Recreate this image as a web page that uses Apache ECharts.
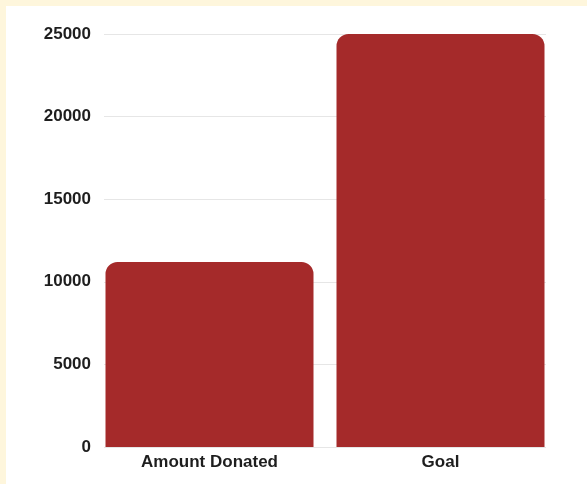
<!DOCTYPE html>
<html>
<head>
<meta charset="utf-8">
<script src="https://cdn.jsdelivr.net/npm/echarts@6/dist/echarts.min.js"></script>
<style>
html,body{margin:0;padding:0;background:#fef6dc;width:587px;height:484px;overflow:hidden;}
#c{position:absolute;left:6px;top:6px;width:581px;height:478px;background:#ffffff;}
</style>
</head>
<body>
<div id="c"></div>
<script>
var categories = ["Amount Donated", "Goal"];
var values = [11200, 25000];
var yTicks = [0, 5000, 10000, 15000, 20000, 25000];

var chart = echarts.init(document.getElementById('c'), null, {renderer: 'canvas'});
var font = {fontFamily: 'Liberation Sans, Arial, sans-serif', fontWeight: 'bold', fontSize: 17, color: '#1e1e1e'};
chart.setOption({
  animation: false,
  grid: [
    {left: 88, top: 28, width: 462, height: 413},
    {left: 98, top: 28, width: 442, height: 413}
  ],
  xAxis: [
    {type: 'category', gridIndex: 0, data: categories,
     axisLine: {show: false}, axisTick: {show: false},
     axisLabel: Object.assign({margin: 7}, font)},
    {type: 'category', gridIndex: 1, data: categories, show: false}
  ],
  yAxis: [
    {type: 'value', gridIndex: 0, min: 0, max: 25000, interval: 5000, show: false},
    {type: 'value', gridIndex: 1, min: yTicks[0], max: yTicks[yTicks.length - 1], interval: 5000,
     axisLine: {show: false}, axisTick: {show: false},
     splitLine: {lineStyle: {color: '#e6e6e6', width: 1}},
     axisLabel: Object.assign({margin: 13, formatter: function (v) { return String(v); }}, font)}
  ],
  series: [{
    type: 'bar', xAxisIndex: 0, yAxisIndex: 0,
    data: values, barWidth: 208,
    itemStyle: {color: '#a52a2a', borderRadius: [12, 12, 0, 0]}
  }]
});
</script>
</body>
</html>
